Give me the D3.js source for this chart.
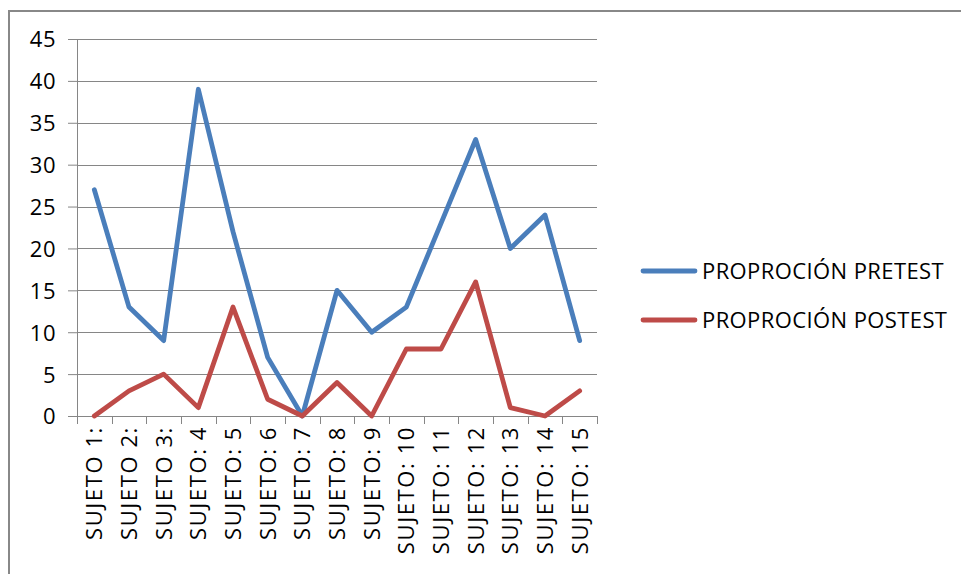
<!DOCTYPE html>
<html>
<head>
<meta charset="utf-8">
<script src="https://cdn.jsdelivr.net/npm/d3@7"></script>
<style>
  body { margin: 0; background: #fff; }
  svg text { font-family: "Open Sans", sans-serif; fill: #000; }
</style>
</head>
<body>
<div id="app"></div>
<script>
// data
let subjects = ["SUJETO 1:", "SUJETO 2:", "SUJETO 3:", "SUJETO: 4", "SUJETO: 5",
  "SUJETO: 6", "SUJETO: 7", "SUJETO: 8", "SUJETO: 9", "SUJETO: 10",
  "SUJETO: 11", "SUJETO: 12", "SUJETO: 13", "SUJETO: 14", "SUJETO: 15"]
let pretest = [27, 13, 9, 39, 22, 7, 0, 15, 10, 13, 23, 33, 20, 24, 9]
let postest = [0, 3, 5, 1, 13, 2, 0, 4, 0, 8, 8, 16, 1, 0, 3]
let yTicks = [0, 5, 10, 15, 20, 25, 30, 35, 40, 45]
let seriesNames = ["PROPROCIÓN PRETEST", "PROPROCIÓN POSTEST"]
let colors = ["#4A7EBB", "#BE4B48"]

let width = 961, height = 574
let plot = {left: 77, right: 597, top: 39, bottom: 416}

let svg = d3.select("#app").append("svg")
    .attr("width", width)
    .attr("height", height)

// outer chart border
svg.append("rect")
    .attr("x", 9).attr("y", 11)
    .attr("width", width + 10).attr("height", height + 10)
    .attr("fill", "none")
    .attr("stroke", "#888")
    .attr("stroke-width", 2)

let x = d3.scaleBand().domain(subjects).range([plot.left, plot.right])
let y = d3.scaleLinear().domain([0, 45]).range([plot.bottom, plot.top])

// gridlines + y axis
let yAxis = svg.append("g")
    .attr("transform", "translate(" + plot.left + ",0)")
    .call(d3.axisLeft(y).tickValues(yTicks).tickSize(9).tickPadding(12))
yAxis.select(".domain").attr("stroke", "#868686")
yAxis.selectAll(".tick line").attr("stroke", "#868686")
yAxis.selectAll(".tick text").attr("font-size", 22).attr("dy", "0.36em")
    .style("font-family", "'Open Sans', sans-serif")
    .style("letter-spacing", "0.5px")

svg.append("g").selectAll("line")
    .data(yTicks.filter(d => d > 0))
    .enter().append("line")
    .attr("x1", plot.left).attr("x2", plot.right)
    .attr("y1", d => Math.round(y(d)) + 0.5).attr("y2", d => Math.round(y(d)) + 0.5)
    .attr("stroke", "#868686")

// x axis with ticks between categories
let xAxis = svg.append("g")
    .attr("transform", "translate(0," + plot.bottom + ")")
    .call(d3.axisBottom(x).tickSize(0).tickSizeOuter(0))
xAxis.select(".domain").attr("stroke", "#868686")
xAxis.selectAll(".tick text")
    .attr("font-size", 22)
    .style("font-family", "'Open Sans', sans-serif")
    .style("letter-spacing", "1.6px")
    .attr("transform", "rotate(-90)")
    .attr("text-anchor", "end")
    .attr("x", -10)
    .attr("y", 0)
    .attr("dy", "0.36em")

svg.append("g").selectAll("line")
    .data(d3.range(subjects.length + 1))
    .enter().append("line")
    .attr("x1", i => Math.round(plot.left + i * x.step()) + 0.5)
    .attr("x2", i => Math.round(plot.left + i * x.step()) + 0.5)
    .attr("y1", plot.bottom).attr("y2", plot.bottom + 8)
    .attr("stroke", "#868686")

// lines
let line = d3.line()
    .x((d, i) => x(subjects[i]) + x.bandwidth() / 2)
    .y(d => y(d))

let series = [pretest, postest]
svg.append("g").selectAll("path")
    .data(series)
    .enter().append("path")
    .attr("d", line)
    .attr("fill", "none")
    .attr("stroke", (d, i) => colors[i])
    .attr("stroke-width", 4.8)
    .attr("stroke-linejoin", "round")
    .attr("stroke-linecap", "round")

// legend
let legend = svg.append("g").selectAll("g")
    .data(seriesNames)
    .enter().append("g")
    .attr("transform", (d, i) => "translate(643," + (271 + i * 49) + ")")

legend.append("line")
    .attr("x1", 0).attr("x2", 52)
    .attr("stroke", (d, i) => colors[i])
    .attr("stroke-width", 4.8)
    .attr("stroke-linecap", "round")

legend.append("text")
    .attr("x", 59)
    .attr("dy", "0.36em")
    .attr("font-size", 22)
    .style("letter-spacing", "0.4px")
    .text(d => d)
</script>
</body>
</html>
